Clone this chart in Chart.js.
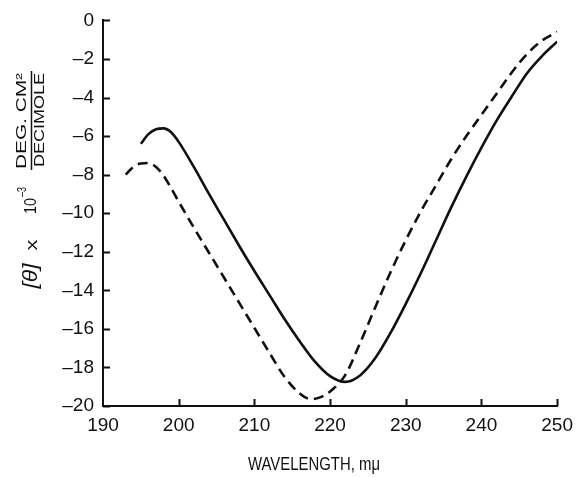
<!DOCTYPE html>
<html>
<head>
<meta charset="utf-8">
<script src="https://cdn.jsdelivr.net/npm/chart.js@4.4.1/dist/chart.umd.min.js"></script>
<style>
  html, body { margin: 0; padding: 0; background: #fff; }
  #wrap { width: 581px; height: 477px; }
</style>
</head>
<body>
<div id="wrap"><canvas id="cdChart" width="581" height="477"></canvas></div>
<script>
// Values (wavelength in mμ, [θ] x 10^-3)
const solidWavelength = [195, 196, 197, 198, 199, 200, 202, 204, 206, 208, 210, 212, 214, 216, 218, 220, 222, 224, 226, 228, 230, 232, 234, 236, 238, 240, 242, 244, 246, 248, 250];
const solidTheta = [-6.4, -5.9, -5.65, -5.6, -5.8, -6.3, -7.6, -9.0, -10.35, -11.7, -13.0, -14.25, -15.5, -16.65, -17.7, -18.45, -18.75, -18.4, -17.5, -16.2, -14.7, -13.1, -11.4, -9.7, -8.1, -6.6, -5.2, -3.95, -2.75, -1.85, -1.1];

const dashedWavelength = [193, 194, 195, 196, 197, 198, 199, 200, 202, 204, 206, 208, 210, 212, 214, 216, 217.5, 219, 220, 222, 224, 226, 228, 230, 232, 234, 236, 238, 240, 242, 244, 246, 248, 250];
const dashedTheta = [-8.0, -7.6, -7.42, -7.4, -7.6, -8.05, -8.7, -9.4, -10.75, -12.05, -13.35, -14.65, -15.95, -17.25, -18.5, -19.35, -19.65, -19.5, -19.25, -18.4, -16.7, -14.85, -13.05, -11.4, -9.9, -8.55, -7.2, -6.0, -4.9, -3.8, -2.7, -1.75, -1.05, -0.6];

const xTicks = [190, 200, 210, 220, 230, 240, 250];
const yTicks = [0, -2, -4, -6, -8, -10, -12, -14, -16, -18, -20];
const yTickLabels = ['0', '–2', '–4', '–6', '–8', '–10', '–12', '–14', '–16', '–18', '–20'];

const INK = '#111';
const FONT = '"Liberation Sans", Arial, sans-serif';

function toPoints(xs, ys) {
    return xs.map((x, i) => ({ x: x, y: ys[i] }));
}

// draw text stretched/squeezed to a given width, centred on (cx, cy)
function drawFit(ctx, text, cx, cy, width) {
    const w = ctx.measureText(text).width;
    ctx.save();
    ctx.translate(cx, cy);
    ctx.scale(width / w, 1);
    ctx.textAlign = 'center';
    ctx.fillText(text, 0, 0);
    ctx.restore();
}

// inward tick marks, like the original plot
const innerTicks = {
    id: 'innerTicks',
    afterDraw(chart) {
        const { ctx, chartArea } = chart;
        const xs = chart.scales.x, ys = chart.scales.y;
        ctx.save();
        ctx.strokeStyle = INK;
        ctx.lineWidth = 2;
        ctx.beginPath();
        yTicks.forEach(v => {
            const y = Math.round(ys.getPixelForValue(v)) + 0.5;
            ctx.moveTo(chartArea.left, y);
            ctx.lineTo(chartArea.left + 7, y);
        });
        xTicks.slice(1).forEach(v => {
            const x = Math.round(xs.getPixelForValue(v)) + 0.5;
            ctx.moveTo(x, chartArea.bottom);
            ctx.lineTo(x, chartArea.bottom - 7);
        });
        ctx.stroke();
        ctx.restore();
    }
};

// axis titles
const axisTitles = {
    id: 'axisTitles',
    afterDraw(chart) {
        const ctx = chart.ctx;
        ctx.save();
        ctx.fillStyle = INK;
        ctx.textBaseline = 'middle';

        // x title
        ctx.font = '19px ' + FONT;
        drawFit(ctx, 'WAVELENGTH, mμ', 314, 465, 132);

        // y title, rotated
        ctx.translate(31, 290);
        ctx.rotate(-Math.PI / 2);
        ctx.font = 'italic 21px ' + FONT;
        drawFit(ctx, '[θ]', 14, 0, 25);
        ctx.font = '17px ' + FONT;
        drawFit(ctx, 'x', 45, 1, 11);
        drawFit(ctx, '10', 84, 0, 16);
        ctx.font = '12px ' + FONT;
        drawFit(ctx, '–3', 98, -8, 10);

        ctx.font = '15px ' + FONT;
        drawFit(ctx, 'DEG. CM²', 169, -9, 96);
        drawFit(ctx, 'DECIMOLE', 170, 9, 94);
        ctx.strokeStyle = INK;
        ctx.lineWidth = 1.5;
        ctx.beginPath();
        ctx.moveTo(120, 0.5);
        ctx.lineTo(219, 0.5);
        ctx.stroke();
        ctx.restore();
    }
};

new Chart(document.getElementById('cdChart').getContext('2d'), {
    type: 'line',
    data: {
        datasets: [
            {
                label: 'solid',
                data: toPoints(solidWavelength, solidTheta),
                borderColor: INK,
                borderWidth: 2.6,
                pointRadius: 0,
                cubicInterpolationMode: 'monotone',
                fill: false
            },
            {
                label: 'dashed',
                data: toPoints(dashedWavelength, dashedTheta),
                borderColor: INK,
                borderWidth: 2.6,
                borderDash: [10, 6],
                pointRadius: 0,
                cubicInterpolationMode: 'monotone',
                fill: false
            }
        ]
    },
    options: {
        responsive: false,
        animation: false,
        layout: { padding: { top: 20, right: 18, left: 0, bottom: 0 } },
        plugins: {
            legend: { display: false },
            tooltip: { enabled: false }
        },
        scales: {
            x: {
                type: 'linear',
                min: 190,
                max: 250,
                afterBuildTicks: s => { s.ticks = xTicks.map(v => ({ value: v })); },
                afterFit: s => { s.height = 71; },
                grid: { drawOnChartArea: false, drawTicks: false },
                border: { color: INK, width: 2 },
                ticks: {
                    color: INK,
                    padding: 8,
                    maxRotation: 0,
                    font: { family: FONT, size: 19 }
                }
            },
            y: {
                min: -20,
                max: 0,
                afterBuildTicks: s => { s.ticks = yTicks.map(v => ({ value: v })); },
                afterFit: s => { s.width = 103; },
                grid: { drawOnChartArea: false, drawTicks: false },
                border: { color: INK, width: 2 },
                ticks: {
                    color: INK,
                    padding: 9,
                    font: { family: FONT, size: 19 },
                    callback: (v, i) => yTickLabels[i]
                }
            }
        }
    },
    plugins: [innerTicks, axisTitles]
});
</script>
</body>
</html>
